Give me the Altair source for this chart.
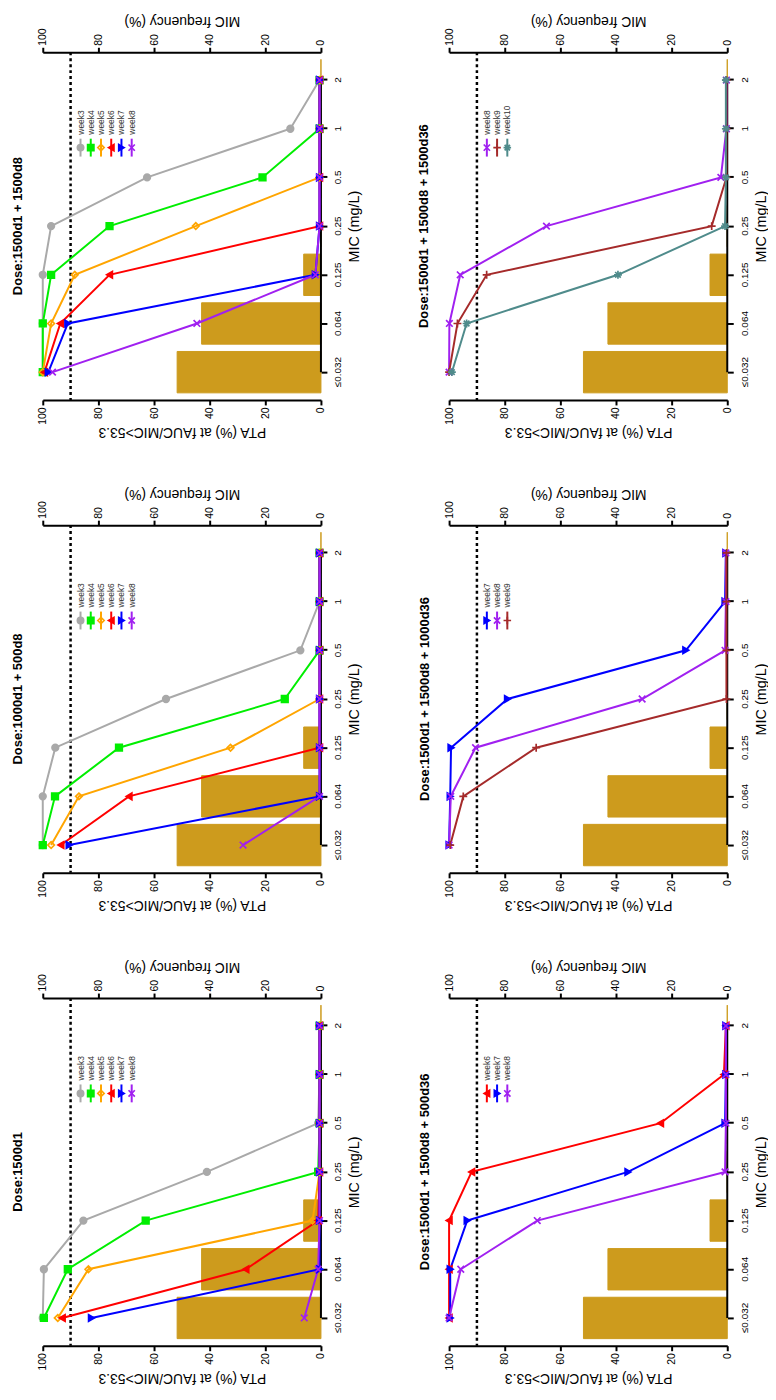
import altair as alt
import pandas as pd

FONT = "Liberation Sans, Arial, Helvetica, sans-serif"
GOLD = "#CD9B1D"

# ---------------- data ----------------
mic_labels = ["≤0.032", "0.064", "0.125", "0.25", "0.5", "1", "2"]
mic_freq = [51.7, 42.9, 6.2, 0, 0, 0, 0]
pta_target = 90
axis_ticks = [0, 20, 40, 60, 80, 100]

weeks = ["week3", "week4", "week5", "week6", "week7", "week8", "week9", "week10"]
week_colors = ["#A9A9A9", "#00EE00", "#FFA500", "#FF0000", "#0000FF", "#A020F0", "#A52A2A", "#4F8B8B"]
week_fills = ["#A9A9A9", "#00EE00", "transparent", "#FF0000", "#0000FF", "transparent", "transparent", "transparent"]
week_shapes = [
    "circle", "square", "diamond", "triangle-left", "triangle-right",
    "M-1,-1L1,1M-1,1L1,-1",
    "M-1.2,0L1.2,0M0,-1.2L0,1.2",
    "M-1.2,0L1.2,0M0,-1.2L0,1.2M-0.85,-0.85L0.85,0.85M-0.85,0.85L0.85,-0.85",
]

title_a = "Dose:1500d1"
title_b = "Dose:1000d1 + 500d8"
title_c = "Dose:1500d1 + 1500d8"
title_d = "Dose:1500d1 + 1500d8 + 500d36"
title_e = "Dose:1500d1 + 1500d8 + 1000d36"
title_f = "Dose:1500d1 + 1500d8 + 1500d36"

# PTA values per MIC (≤0.032, 0.064, 0.125, 0.25, 0.5, 1, 2)
a_week3 = [100, 99.6, 85.4, 41.0, 1.0, 0.5, 0.5]
a_week4 = [99.6, 91.0, 63.0, 1.0, 0.5, 0.5, 0.5]
a_week5 = [94.6, 83.6, 3.0, 0.5, 0.5, 0.5, 0.5]
a_week6 = [93.0, 27.0, 1.0, 0.5, 0.5, 0.5, 0.5]
a_week7 = [82.5, 0.5, 0.5, 0.5, 0.5, 0.5, 0.5]
a_week8 = [6.0, 1.0, 0.5, 0.5, 0.5, 0.5, 0.5]

b_week3 = [100, 100, 95.5, 55.7, 7.4, 0.5, 0.5]
b_week4 = [100, 95.6, 72.6, 13.0, 0.5, 0.5, 0.5]
b_week5 = [97.0, 87.0, 32.5, 0.5, 0.5, 0.5, 0.5]
b_week6 = [93.5, 69.0, 0.5, 0.5, 0.5, 0.5, 0.5]
b_week7 = [90.5, 0.5, 0.5, 0.5, 0.5, 0.5, 0.5]
b_week8 = [28.0, 0.5, 0.5, 0.5, 0.5, 0.5, 0.5]

c_week3 = [100, 100, 100, 97.0, 62.5, 11.0, 0.5]
c_week4 = [100, 100, 97.0, 76.0, 21.0, 0.5, 0.5]
c_week5 = [100, 97.0, 88.5, 45.0, 0.5, 0.5, 0.5]
c_week6 = [99.4, 93.7, 76.0, 0.5, 0.5, 0.5, 0.5]
c_week7 = [98.0, 91.0, 2.0, 0.5, 0.5, 0.5, 0.5]
c_week8 = [96.5, 44.6, 2.0, 0.5, 0.5, 0.5, 0.5]

d_week6 = [100, 100, 100, 91.9, 24.0, 1.2, 0.5]
d_week7 = [99.6, 99.6, 93.5, 35.7, 0.8, 0.5, 0.5]
d_week8 = [100, 95.8, 68.3, 0.8, 0.5, 0.5, 0.5]

e_week7 = [100, 99.6, 99.3, 79.0, 14.9, 0.8, 0.5]
e_week8 = [100, 99.4, 90.5, 30.6, 0.8, 0.5, 0.5]
e_week9 = [99.6, 94.9, 68.7, 0.3, 0.3, 0.3, 0.3]

f_week8 = [100, 99.9, 96.0, 65.0, 2.3, 0.3, 0.3]
f_week9 = [100, 97.0, 86.5, 5.6, 0.3, 0.3, 0.3]
f_week10 = [99.0, 93.7, 39.3, 0.8, 0.5, 0.5, 0.5]

panels = [
    (title_c, {"week3": c_week3, "week4": c_week4, "week5": c_week5, "week6": c_week6, "week7": c_week7, "week8": c_week8}),
    (title_f, {"week8": f_week8, "week9": f_week9, "week10": f_week10}),
    (title_b, {"week3": b_week3, "week4": b_week4, "week5": b_week5, "week6": b_week6, "week7": b_week7, "week8": b_week8}),
    (title_e, {"week7": e_week7, "week8": e_week8, "week9": e_week9}),
    (title_a, {"week3": a_week3, "week4": a_week4, "week5": a_week5, "week6": a_week6, "week7": a_week7, "week8": a_week8}),
    (title_d, {"week6": d_week6, "week7": d_week7, "week8": d_week8}),
]

W, H = 280, 350


def pta_scale():
    return alt.Scale(domain=[0, 100], reverse=True, nice=False)


color_enc = alt.Color("week:N", scale=alt.Scale(domain=weeks, range=week_colors), legend=None)
fill_enc = alt.Fill("week:N", scale=alt.Scale(domain=weeks, range=week_fills), legend=None)
shape_enc = alt.Shape("week:N", scale=alt.Scale(domain=weeks, range=week_shapes), legend=None)

y_enc = alt.Y(
    "mic:N",
    sort=mic_labels[::-1],
    scale=alt.Scale(paddingInner=0.15, paddingOuter=0.146),
    axis=alt.Axis(
        orient="right", title="MIC (mg/L)", domain=False,
        tickSize=6, tickWidth=2, labelAngle=270, labelAlign="center", labelBaseline="top",
        labelPadding=6, labelFontSize=10, titleAngle=270, titleBaseline="top",
        titleFontSize=14.5, titlePadding=5,
    ),
)

bottom_axis = alt.Axis(
    orient="bottom", values=axis_ticks, title="PTA (%) at fAUC/MIC>53.3",
    tickSize=5, tickWidth=2, domainWidth=2, labelAngle=270, labelAlign="right",
    labelBaseline="middle", labelPadding=2, labelFontSize=10.5,
    titleAngle=180, titleBaseline="bottom", titlePadding=0, titleFontSize=14,
)
top_axis = alt.Axis(
    orient="top", values=axis_ticks, title="MIC frequency (%)",
    tickSize=5, tickWidth=2, domainWidth=2, labelAngle=270, labelAlign="left",
    labelBaseline="middle", labelPadding=2, labelFontSize=10.5,
    titleAngle=180, titleBaseline="top", titlePadding=0, titleFontSize=14,
)


def make_panel(title, series):
    rows = []
    for w, vals in series.items():
        for k, (m, v) in enumerate(zip(mic_labels, vals)):
            rows.append({"week": w, "mic": m, "k": k, "pta": v})
    df = pd.DataFrame(rows)
    bars_df = pd.DataFrame({"mic": mic_labels, "freq": mic_freq})
    leg_df = pd.DataFrame({"week": list(series.keys()), "i": list(range(len(series)))})
    tgt_df = pd.DataFrame({"target": [pta_target]})

    bars = alt.Chart(bars_df).mark_bar(color=GOLD, stroke=GOLD, strokeWidth=1).encode(
        x=alt.X("freq:Q", scale=pta_scale(), axis=top_axis),
        y=y_enc,
    )
    mic_axis_line = alt.Chart(bars_df).transform_calculate(zero="0").mark_line(
        color="black", strokeWidth=2
    ).encode(
        x=alt.X("zero:Q", scale=pta_scale(), axis=None),
        y=y_enc,
    )
    target = alt.Chart(tgt_df).mark_rule(color="black", strokeWidth=2.5, strokeDash=[3, 3]).encode(
        x=alt.X("target:Q", scale=pta_scale(), axis=None)
    )
    lines = alt.Chart(df).mark_line(strokeWidth=2).encode(
        x=alt.X("pta:Q", scale=pta_scale(), axis=None),
        y=y_enc,
        color=color_enc,
        order=alt.Order("k:Q"),
    )
    points = alt.Chart(df).mark_point(size=44, strokeWidth=1.7, opacity=1).encode(
        x=alt.X("pta:Q", scale=pta_scale(), axis=bottom_axis),
        y=y_enc,
        color=color_enc,
        fill=fill_enc,
        shape=shape_enc,
    )
    leg_base = alt.Chart(leg_df).transform_calculate(lx="38 + 10.3 * datum.i")
    leg_rule = leg_base.mark_rule(strokeWidth=2).encode(
        x=alt.X("lx:Q", scale=None), y=alt.value(87), y2=alt.value(105), color=color_enc
    )
    leg_pt = leg_base.mark_point(size=40, strokeWidth=1.7, opacity=1).encode(
        x=alt.X("lx:Q", scale=None), y=alt.value(96), color=color_enc, fill=fill_enc, shape=shape_enc
    )
    leg_txt = leg_base.mark_text(
        angle=270, align="left", baseline="middle", fontSize=8.5, font=FONT, color="#333333"
    ).encode(x=alt.X("lx:Q", scale=None), y=alt.value(83), text="week:N")

    return alt.layer(
        bars, mic_axis_line, target, lines, points, leg_rule, leg_pt, leg_txt
    ).resolve_scale(x="independent").resolve_axis(x="independent").properties(
        width=W, height=H,
        title=alt.Title(title, orient="left", anchor="middle", fontSize=13,
                        fontWeight="bold", font=FONT, color="black", offset=11),
    )


charts = [make_panel(t, s) for t, s in panels]

chart = alt.concat(
    *charts, columns=2, spacing={"row": 126, "column": 129}, bounds="flush"
).properties(padding={"top": 1, "left": 4, "right": 0, "bottom": 0}).configure_view(
    stroke=None
).configure_axis(
    grid=False, labelFont=FONT, titleFont=FONT, labelColor="black", titleColor="black",
    domainColor="black", tickColor="black", titleFontWeight="normal",
)

chart.save("out.html", embed_options={"renderer": "svg", "actions": False})
